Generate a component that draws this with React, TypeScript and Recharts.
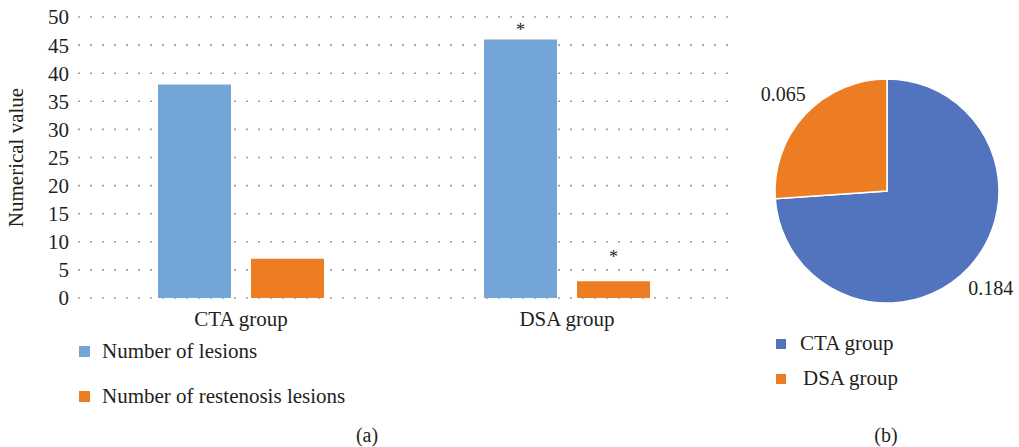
import { BarChart, Bar, XAxis, YAxis, CartesianGrid, Legend, LabelList, PieChart, Pie, Cell } from 'recharts';

const groups = ['CTA group', 'DSA group'];
const lesions = [38, 46];
const restenosis = [7, 3];
const marked = [false, true];
const yTicks = [0, 5, 10, 15, 20, 25, 30, 35, 40, 45, 50];

const pieNames = ['CTA group', 'DSA group'];
const pieValues = [0.184, 0.065];

const FONT = '"Liberation Serif", "Times New Roman", serif';
const TEXT = '#231f20';
const BLUE = '#73a5d6';
const ORANGE = '#ed7d22';
const PIE_BLUE = '#5273bd';

const barData = groups.map((group, i) => ({
  group,
  lesions: lesions[i],
  restenosis: restenosis[i],
  marked: marked[i],
}));

const pieData = pieNames.map((name, i) => ({ name, value: pieValues[i] }));
const pieColors = [PIE_BLUE, ORANGE];

// draws a "*" over the bars that differ significantly
function star(lift: number) {
  return (props: any) => {
    const { x, y, width, index } = props;
    if (!barData[index]?.marked) return null;
    return (
      <text x={x + width / 2} y={y - lift} textAnchor="middle" fontSize={18} fill={TEXT} fontFamily={FONT}>
        *
      </text>
    );
  };
}

function BarLegend({ payload }: any) {
  return (
    <div style={{ fontFamily: FONT, fontSize: 21, color: TEXT }}>
      {(payload || []).map((p: any) => (
        <div key={p.value} style={{ height: 45, display: 'flex', alignItems: 'center' }}>
          <span style={{ width: 11, height: 11, background: p.color, marginRight: 12, display: 'inline-block' }} />
          {p.value}
        </div>
      ))}
    </div>
  );
}

function PieLegend({ payload }: any) {
  return (
    <div style={{ fontFamily: FONT, fontSize: 21, color: TEXT }}>
      {(payload || []).map((p: any, i: number) => (
        <div key={p.value} style={{ height: 35, display: 'flex', alignItems: 'center' }}>
          <span style={{ width: 10, height: 10, background: p.color, marginRight: 14 + i * 3, display: 'inline-block' }} />
          {p.value}
        </div>
      ))}
    </div>
  );
}

function pieLabel(props: any) {
  const { cx, cy, midAngle, outerRadius, value } = props;
  const r = outerRadius + 30;
  const a = (-midAngle * Math.PI) / 180;
  return (
    <text
      x={cx + r * Math.cos(a)}
      y={cy + r * Math.sin(a)}
      textAnchor="middle"
      dominantBaseline="central"
      fontSize={20}
      fill={TEXT}
      fontFamily={FONT}
    >
      {value}
    </text>
  );
}

export default function App() {
  return (
    <div style={{ position: 'absolute', left: 0, top: 0, width: 1019, height: 447, background: '#fff', fontFamily: FONT }}>
      <div style={{ position: 'absolute', left: 0, top: 0 }}>
        <BarChart
          width={740}
          height={447}
          data={barData}
          margin={{ top: 17, right: 10, bottom: 119, left: 0 }}
          barCategoryGap={80}
          barGap={20}
        >
          <CartesianGrid vertical={false} stroke="#9d9d9d" strokeWidth={1.6} strokeDasharray="2 10" />
          <XAxis
            dataKey="group"
            axisLine={false}
            tickLine={false}
            tickSize={0}
            tickMargin={13}
            tick={{ fill: TEXT, fontSize: 21, fontFamily: FONT }}
          />
          <YAxis
            width={78}
            domain={[0, 50]}
            ticks={yTicks}
            interval={0}
            axisLine={false}
            tickLine={false}
            tickSize={0}
            tickMargin={9}
            tick={{ fill: TEXT, fontSize: 21, fontFamily: FONT }}
            label={{
              value: 'Numerical value',
              angle: -90,
              position: 'insideLeft',
              offset: 16,
              style: { textAnchor: 'middle', fill: TEXT, fontSize: 21, fontFamily: FONT },
            }}
          />
          <Legend
            content={<BarLegend />}
            layout="vertical"
            align="center"
            verticalAlign="middle"
            wrapperStyle={{ left: 79, top: 329, width: 400 }}
          />
          <Bar dataKey="lesions" name="Number of lesions" fill={BLUE} isAnimationActive={false}>
            <LabelList dataKey="lesions" content={star(3)} />
          </Bar>
          <Bar dataKey="restenosis" name="Number of restenosis lesions" fill={ORANGE} isAnimationActive={false}>
            <LabelList dataKey="restenosis" content={star(18)} />
          </Bar>
        </BarChart>
      </div>
      <div style={{ position: 'absolute', left: 740, top: 0 }}>
        <PieChart width={279} height={447} margin={{ top: 0, right: 0, bottom: 0, left: 0 }}>
          <Pie
            data={pieData}
            dataKey="value"
            nameKey="name"
            cx={147}
            cy={191}
            outerRadius={112}
            startAngle={90}
            endAngle={-270}
            stroke="#ffffff"
            strokeWidth={1.5}
            label={pieLabel}
            labelLine={false}
            isAnimationActive={false}
          >
            {pieData.map((d, i) => (
              <Cell key={d.name} fill={pieColors[i]} />
            ))}
          </Pie>
          <Legend
            content={<PieLegend />}
            layout="vertical"
            align="center"
            verticalAlign="middle"
            wrapperStyle={{ left: 36, top: 326, width: 240 }}
          />
        </PieChart>
      </div>
      <div style={{ position: 'absolute', left: 347, top: 424, width: 40, textAlign: 'center', fontSize: 20, color: TEXT }}>(a)</div>
      <div style={{ position: 'absolute', left: 866, top: 424, width: 40, textAlign: 'center', fontSize: 20, color: TEXT }}>(b)</div>
    </div>
  );
}
